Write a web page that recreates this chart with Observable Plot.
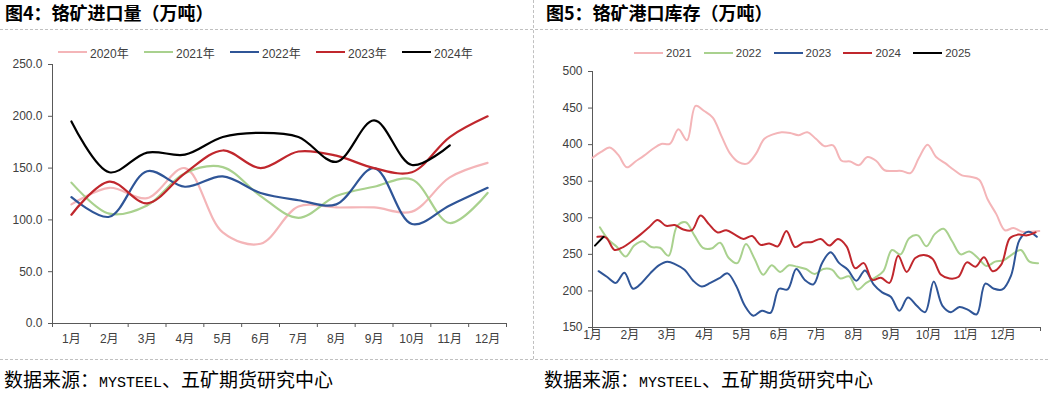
<!DOCTYPE html>
<html><head><meta charset="utf-8">
<script src="https://cdn.jsdelivr.net/npm/d3@7"></script>
<script src="https://cdn.jsdelivr.net/npm/@observablehq/plot@0.6"></script>
<style>
body{margin:0;background:#fff;}
#root{position:relative;width:1048px;height:393px;overflow:hidden;background:#fff;font-family:"Liberation Sans","Noto Sans CJK SC",sans-serif;}
.title{position:absolute;top:3px;font-family:"Noto Sans CJK SC";font-weight:700;font-size:18px;line-height:18px;color:#000;white-space:nowrap;}
.src{position:absolute;top:369px;font-family:"Noto Sans CJK SC";font-size:19px;line-height:20px;color:#000;white-space:nowrap;}
.src .lat{font-family:"Liberation Mono";font-size:15px;}
.hdash{position:absolute;height:0;border-top:1px dashed #c0c0c0;}
.vdash{position:absolute;width:0;border-left:1px dashed #c0c0c0;}
.leg{position:absolute;display:flex;align-items:center;white-space:nowrap;color:#404040;font-family:"Liberation Sans","Noto Sans CJK SC";}
.leg i{display:inline-block;width:29px;height:2.5px;margin-right:3px;}
.plot{position:absolute;}
</style></head><body><div id="root"></div>
<script>
// ---------- Data: chrome ore imports (万吨), monthly ----------
const months = ["1月","2月","3月","4月","5月","6月","7月","8月","9月","10月","11月","12月"];
const importYears = ["2020年","2021年","2022年","2023年","2024年"];
const imp2020 = [115, 131, 121, 150, 88, 77, 113, 112, 112, 108, 141, 155];
const imp2021 = [136, 106, 114, 145, 151, 123, 102, 123, 132, 139, 97, 126];
const imp2022 = [122, 103, 147, 132, 142, 126, 119, 115, 150, 96, 114, 131];
const imp2023 = [105, 137, 116, 145, 167, 150, 166, 162, 150, 146, 180, 200];
const imp2024 = [195, 146, 165, 163, 180, 184, 180, 156, 196, 153, 172];
const importColors = ["#F4B5B8", "#A9D18E", "#2F5597", "#C0272D", "#000000"];
const importTicks = [0, 50, 100, 150, 200, 250];

// ---------- Data: chrome ore port inventory (万吨), weekly (Fridays) ----------
const stockYears = ["2021", "2022", "2023", "2024", "2025"];
const stockFirstDate = ["2021-01-01", "2022-01-07", "2023-01-06", "2024-01-05", "2025-01-03"];
const stock2021 = [382, 390, 396, 386, 369, 377, 385, 394, 401, 401, 421, 406, 453, 446, 437, 412, 388, 376, 374, 387,
  408, 414, 417, 416, 413, 417, 408, 398, 399, 378, 377, 372, 383, 378, 365, 364, 364, 361, 382, 400,
  383, 375, 366, 358, 356, 352, 325, 305, 283, 286, 281, 281, 282];
const stock2022 = [287, 270, 260, 247, 262, 268, 260, 259, 248, 289, 294, 276, 259, 258, 266, 245, 238, 264, 244, 222,
  235, 226, 235, 233, 230, 223, 230, 229, 217, 220, 202, 211, 218, 227, 256, 250, 272, 276, 261, 278,
  285, 268, 250, 254, 245, 234, 240, 242, 250, 256, 240, 238];
const stock2023 = [227, 219, 211, 225, 203, 211, 224, 235, 240, 236, 229, 214, 206, 211, 217, 224, 207, 180, 166, 173,
  170, 203, 202, 230, 215, 209, 238, 253, 238, 229, 214, 228, 209, 198, 192, 173, 191, 180, 171, 213,
  180, 171, 178, 174, 168, 210, 203, 202, 221, 270, 281, 274];
const stock2024 = [274, 273, 256, 260, 268, 277, 287, 297, 289, 290, 284, 283, 303, 291, 280, 283, 277, 271, 275, 263,
  265, 261, 282, 260, 266, 267, 271, 262, 271, 261, 231, 238, 215, 218, 211, 248, 226, 245, 249, 244,
  222, 217, 219, 239, 233, 246, 227, 236, 272, 277, 276, 280];
const stock2025 = [262, 274];
const stockColors = ["#F4B5B8", "#A9D18E", "#2F5597", "#C0272D", "#000000"];
const stockTicks = [150, 200, 250, 300, 350, 400, 450, 500];

// ---------- Build tables ----------
const impSeries = [imp2020, imp2021, imp2022, imp2023, imp2024];
const impData = impSeries.flatMap((arr, k) => arr.map((v, i) => ({year: importYears[k], m: i + 1, v})));

const parse = d3.utcParse("%Y-%m-%d");
const stockSeries = [stock2021, stock2022, stock2023, stock2024, stock2025];
const stockData = stockSeries.flatMap((arr, k) => {
  const d0 = parse(stockFirstDate[k]);
  const doy0 = d3.utcDay.count(d3.utcYear(d0), d0) + 1;
  return arr.map((v, i) => ({year: stockYears[k], day: doy0 + 7 * i, v}));
});
const monthPos = d3.range(13).map(m => 1 + m * 365 / 12);

const root = document.getElementById("root");
function add(html) { root.insertAdjacentHTML("beforeend", html); }

// frame lines
add(`<div class="hdash" style="left:0;top:29px;width:1048px"></div>`);
add(`<div class="hdash" style="left:0;top:359px;width:1048px"></div>`);
add(`<div class="vdash" style="left:533px;top:0;height:359px"></div>`);

// titles & sources
add(`<div class="title" style="left:5px">图4：铬矿进口量（万吨）</div>`);
add(`<div class="title" style="left:546px">图5：铬矿港口库存（万吨）</div>`);
add(`<div class="src" style="left:4px">数据来源：<span class="lat">MYSTEEL</span>、五矿期货研究中心</div>`);
add(`<div class="src" style="left:544px">数据来源：<span class="lat">MYSTEEL</span>、五矿期货研究中心</div>`);

// legends
importYears.forEach((y, k) => {
  add(`<div class="leg" style="left:${58 + 86 * k}px;top:44px;height:16px;font-size:12px"><i style="background:${importColors[k]}"></i>${y}</div>`);
});
stockYears.forEach((y, k) => {
  add(`<div class="leg" style="left:${634 + 69.8 * k}px;top:45px;height:16px;font-size:11.5px"><i style="background:${stockColors[k]}"></i>${y}</div>`);
});

const axisStroke = "#595959";
const textFill = "#404040";
const baseStyle = {fontFamily: '"Liberation Sans","Noto Sans CJK SC",sans-serif', fontSize: "12px", color: textFill, background: "transparent", overflow: "visible"};

// ---------- Left chart ----------
const left = Plot.plot({
  width: 524, height: 300,
  marginLeft: 52, marginRight: 18, marginTop: 8, marginBottom: 33,
  style: baseStyle,
  x: {domain: [0.5, 12.5], axis: null, label: null},
  y: {domain: [0, 250], axis: null, label: null},
  color: {domain: importYears, range: importColors},
  marks: [
    Plot.axisY({ticks: importTicks, tickFormat: d3.format(".1f"), tickSize: 4, tickPadding: 6, stroke: axisStroke, fill: textFill, label: null}),
    Plot.axisX({ticks: d3.range(0.5, 13, 1), tickFormat: () => "", tickSize: 4, stroke: axisStroke, label: null}),
    Plot.axisX({ticks: d3.range(1, 13), tickFormat: d => months[d - 1], tickSize: 0, tickPadding: 11, fill: textFill, label: null}),
    Plot.ruleY([0], {stroke: axisStroke}),
    Plot.ruleX([0.5], {stroke: axisStroke}),
    Plot.line(impData, {x: "m", y: "v", z: "year", stroke: "year", strokeWidth: 2.2, curve: "catmull-rom"})
  ]
});
left.classList.add("plot");
left.style.left = "0px"; left.style.top = "56px";
root.appendChild(left);

// ---------- Right chart ----------
const right = Plot.plot({
  width: 514, height: 300,
  marginLeft: 58, marginRight: 8, marginTop: 15, marginBottom: 29,
  style: baseStyle,
  x: {domain: [1, 366], axis: null, label: null},
  y: {domain: [150, 500], axis: null, label: null},
  color: {domain: stockYears, range: stockColors},
  marks: [
    Plot.axisY({ticks: stockTicks, tickSize: 4, tickPadding: 6, stroke: axisStroke, fill: textFill, label: null}),
    Plot.axisX({ticks: monthPos, tickFormat: () => "", tickSize: 4, stroke: axisStroke, label: null}),
    Plot.axisX({ticks: monthPos.slice(0, 12), tickFormat: (d, i) => months[i], tickSize: 0, tickPadding: 3, fill: textFill, label: null}),
    Plot.ruleY([150], {stroke: axisStroke}),
    Plot.ruleX([1], {stroke: axisStroke}),
    Plot.line(stockData, {x: "day", y: "v", z: "year", stroke: "year", strokeWidth: 2, curve: "catmull-rom"})
  ]
});
right.classList.add("plot");
right.style.left = "534px"; right.style.top = "56px";
root.appendChild(right);
</script></body></html>
